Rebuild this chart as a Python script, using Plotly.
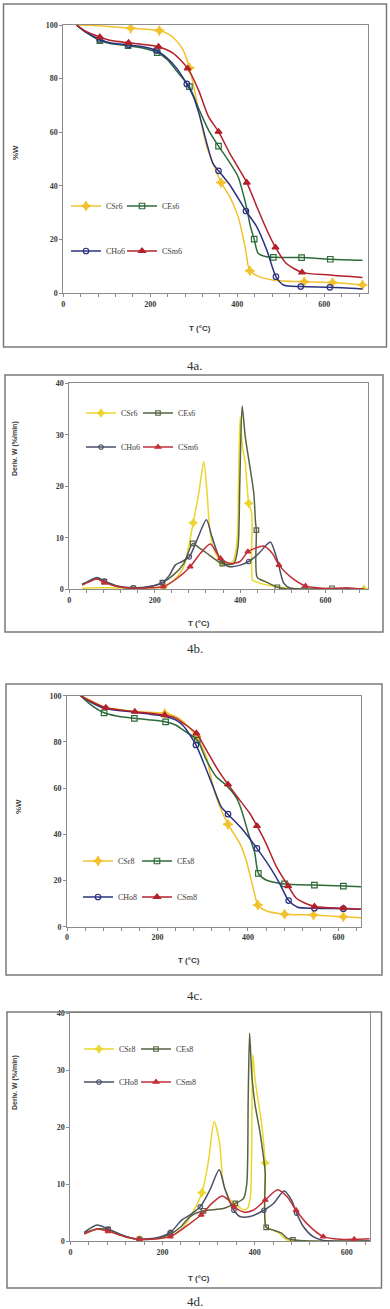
import plotly.graph_objects as go

W_PX, H_PX = 390, 1309

# ---------------- data ----------------
# 4a : TGA, %W vs T, series "6"
a_csr_T = [30, 90, 155, 221, 245, 262, 276, 290, 300, 311, 330, 349, 363, 383, 402, 418, 429, 452, 483, 554, 619, 688]
a_csr_W = [100, 99.6, 98.8, 97.9, 96.3, 93.8, 90.5, 84, 77, 68.3, 54.6, 46.5, 41.2, 35.9, 28.5, 17.3, 8.3, 6.0, 4.8, 4.2, 3.9, 3.0]
a_csr_M = [155, 221, 290, 363, 429, 554, 619, 688]

a_ces_T = [30, 50, 84, 110, 149, 180, 216, 240, 260, 275, 290, 311, 334, 357, 379, 402, 412, 421, 430, 439, 448, 465, 483, 548, 614, 688]
a_ces_W = [100, 97.5, 94.2, 93, 92.3, 91.5, 89.7, 87, 83, 80, 77, 68.9, 60.8, 54.8, 49.6, 43.4, 38, 32.2, 25, 20.1, 14.8, 13.6, 13.3, 13.2, 12.6, 12.2]
a_ces_M = [84, 149, 216, 290, 357, 439, 483, 548, 614]

a_cho_T = [30, 50, 84, 110, 150, 180, 214, 240, 260, 284, 299, 314, 330, 344, 357, 383, 420, 445, 468, 489, 506, 546, 613, 688]
a_cho_W = [100, 97.5, 94.6, 93.3, 92.6, 92, 90.5, 87.5, 84, 78, 73.3, 65.8, 55.8, 48.4, 45.6, 40.3, 30.6, 24.7, 16, 6.1, 3.0, 2.4, 2.1, 1.5]
a_cho_M = [84, 150, 214, 284, 357, 420, 489, 546, 613]

a_csm_T = [30, 50, 84, 110, 150, 180, 219, 253, 286, 311, 334, 357, 383, 422, 445, 468, 488, 513, 549, 613, 688]
a_csm_W = [100, 97.8, 95.5, 94.2, 93.4, 92.8, 91.9, 89.4, 83.8, 75.7, 65.8, 60.2, 52.1, 41.2, 32.2, 23.5, 17, 11, 7.7, 6.7, 5.8]
a_csm_M = [84, 150, 219, 286, 357, 422, 488, 549]

# 4b : DTG, Deriv. W vs T, series "6"
b_csr_T = [30, 60, 100, 150, 200, 220, 245, 268, 290, 303, 315, 322, 330, 342, 358, 373, 385, 393, 396, 400, 405, 412, 420, 427, 429, 436, 450, 479, 549, 620, 690]
b_csr_D = [0.2, 0.3, 0.3, 0.2, 0.3, 0.5, 1.8, 4.4, 12.9, 18.6, 24.8, 19.3, 10.9, 7, 5.2, 4.7, 5.7, 9.6, 20, 33.5, 28, 24.5, 16.7, 14.8, 1.8, 1.5, 1.1, 0.6, 0.05, 0, 0]
b_csr_M = [220, 290, 358, 420, 690]

b_ces_T = [30, 45, 65, 82, 110, 150, 190, 218, 244, 268, 289, 305, 322, 358, 385, 395, 399, 404.6, 412, 424, 432, 436, 438, 440, 459, 487, 510, 550, 615, 690]
b_ces_D = [1.0, 1.5, 2.1, 1.5, 0.6, 0.2, 0.5, 1.3, 2.8, 5.0, 8.9, 8.0, 7.0, 5.0, 5.0, 8.3, 20, 35.6, 29.6, 23.2, 18.6, 13, 11.5, 2.3, 1.5, 0.4, 0.05, 0, 0.2, 0]
b_ces_M = [82, 150, 218, 289, 358, 438, 487, 550, 615]

b_cho_T = [30, 45, 65, 82, 110, 150, 190, 218, 235, 248, 264, 281, 299, 321, 334, 354, 373, 400, 420, 444, 460, 471, 487, 502, 518, 550, 690]
b_cho_D = [1.0, 1.6, 2.3, 1.6, 0.7, 0.3, 0.6, 1.3, 2.8, 4.7, 5.4, 6.3, 9.6, 13.5, 10.2, 5.7, 4.4, 4.7, 5.4, 7.0, 8.5, 9.2, 5.7, 1.2, 0.2, 0, 0]
b_cho_M = [82, 150, 218, 281, 420]

b_csm_T = [30, 45, 65, 82, 110, 150, 190, 220, 252, 283, 307, 330, 354, 377, 400, 418, 436, 455, 475, 491, 518, 553, 600, 617, 650, 690]
b_csm_D = [0.8, 1.4, 2.0, 1.3, 0.6, 0.2, 0.3, 0.5, 2.1, 4.4, 7.0, 8.8, 6.0, 5.0, 5.4, 7.3, 8.0, 8.4, 7.0, 4.7, 2.4, 0.64, 0.15, 0.1, 0.3, 0]
b_csm_M = [82, 220, 283, 354, 418, 491, 553]

# 4c : TGA, %W vs T, series "8"
c_csr_T = [30, 50, 84, 150, 216, 240, 257, 286, 308, 323, 338, 356, 382, 396, 411, 422, 440, 481, 545, 611, 650]
c_csr_W = [100, 98.2, 95, 93.2, 92.3, 91, 88.8, 82.3, 73.6, 60.6, 51.9, 44.3, 36.1, 28.9, 17.3, 9.4, 6.9, 5.4, 5.1, 4.3, 3.9]
c_csr_M = [216, 286, 356, 422, 481, 545, 611]

c_ces_T = [30, 50, 82, 110, 149, 180, 218, 240, 257, 288, 308, 330, 352, 374, 385, 400, 415, 423, 440, 481, 547, 611, 650]
c_ces_W = [100, 96.5, 92.6, 91.2, 90.2, 89.6, 88.7, 87.3, 85.1, 80.8, 72.2, 64.9, 61.3, 56, 51, 41, 32, 23.1, 20.2, 18.5, 18.0, 17.6, 17.3]
c_ces_M = [82, 149, 218, 288, 423, 481, 547, 611]

c_cho_T = [30, 50, 84, 150, 220, 240, 257, 285, 304, 323, 341, 356, 389, 420, 448, 470, 490, 510, 547, 611, 650]
c_cho_W = [100, 97.5, 94.5, 92.8, 90.9, 89.5, 87, 78.7, 70, 60.6, 51.9, 48.7, 41.9, 33.9, 26, 18.8, 11.3, 8.4, 8.0, 7.8, 7.6]
c_cho_M = [285, 356, 420, 490, 547, 611]

c_csm_T = [30, 50, 86, 150, 216, 240, 257, 286, 308, 334, 356, 382, 404, 420, 440, 463, 489, 507, 547, 611, 650]
c_csm_W = [100, 97.8, 94.8, 93.1, 91.6, 90.3, 88.1, 83.7, 76.5, 67.8, 61.6, 54.8, 49.1, 43.6, 36.1, 26, 17.6, 12.3, 8.7, 8.0, 7.6]
c_csm_M = [86, 150, 216, 286, 356, 420, 489, 547, 611]

# 4d : DTG, Deriv. W vs T, series "8"
d_csr_T = [30, 58, 82, 120, 150, 190, 217, 240, 260, 285.5, 300, 312, 324, 332, 347, 361, 375, 385, 391, 396, 401, 416, 422.7, 425, 441, 451, 470, 500, 650]
d_csr_D = [1.3, 2.1, 1.7, 0.7, 0.3, 0.5, 0.8, 2.0, 4.2, 8.5, 14.2, 21, 17.2, 10.1, 7.2, 6.3, 5.5, 5.8, 8, 32.7, 28.3, 20.1, 13.7, 2.5, 1.9, 1.5, 0.2, 0, 0]
d_csr_M = [150, 285.5, 422.7]

d_ces_T = [30, 58, 82, 120, 150, 190, 217, 240, 260, 289, 332, 358, 376, 383, 386, 389, 394, 401, 412, 420, 423, 425, 441, 459, 470, 483, 520, 650]
d_ces_D = [1.4, 2.1, 2.0, 0.8, 0.3, 0.5, 1.2, 2.5, 4.3, 5.3, 5.7, 6.6, 7.5, 10.1, 25, 36.5, 28.9, 23.9, 18.9, 14.2, 12, 2.4, 1.9, 1.35, 0.5, 0.2, 0, 0]
d_ces_M = [82, 150, 217, 289, 358, 425, 483]

d_cho_T = [30, 58, 82, 120, 150, 190, 217, 242, 260, 282, 303, 323, 336, 355, 368, 390, 420, 441, 464, 480, 491, 506, 527, 549, 650]
d_cho_D = [1.5, 2.8, 2.1, 0.8, 0.3, 0.6, 1.5, 3.7, 4.6, 6.0, 9.0, 12.5, 9.0, 5.4, 4.3, 4.3, 5.4, 6.6, 8.8, 7.2, 4.9, 2.5, 0.75, 0.1, 0]
d_cho_M = [82, 217, 282, 355, 420, 491]

d_csm_T = [30, 58, 82, 120, 150, 190, 217, 260, 284, 307, 329, 343, 355, 376, 397, 423, 450, 470, 490, 513, 549, 585, 616, 650]
d_csm_D = [1.2, 2.1, 1.7, 0.7, 0.3, 0.4, 0.76, 3.1, 4.6, 6.6, 7.9, 7.2, 6.0, 5.1, 5.4, 7.2, 9.0, 7.8, 5.4, 3.1, 0.76, 0.3, 0.3, 0.4]
d_csm_M = [82, 150, 217, 284, 355, 423, 490, 549, 616]

names6 = ["CSr6", "CEs6", "CHo6", "CSm6"]
names8 = ["CSr8", "CEs8", "CHo8", "CSm8"]
x_ticks = [0, 200, 400, 600]
captions = ["4a.", "4b.", "4c.", "4d."]
x_title = "T (°C)"
y_title_tga = "%W"
y_title_dtg = "Deriv. W (%/min)"

# ---------------- styling ----------------
COL_AC = ["#F2C12E", "#2E6B3A", "#2B3380", "#B3202A"]
COL_BD = ["#EAD62C", "#556440", "#4A4F66", "#C2303A"]
SYMS = ["star-diamond", "square-open", "circle-open", "triangle-up"]
MS_AC = [7, 5.5, 5.5, 6]
MS_BD = [6, 4.5, 4.5, 5]
GRAY = "#8c8c8c"
TXT = "#3a3a3a"

# legend item positions (line start x, row y) in page pixels: CSr, CEs, CHo, CSm
panels = [
    dict(series=[(a_csr_T, a_csr_W, a_csr_M), (a_ces_T, a_ces_W, a_ces_M), (a_cho_T, a_cho_W, a_cho_M), (a_csm_T, a_csm_W, a_csm_M)],
         names=names6, cols=COL_AC, ms=MS_AC, plot=(63.3, 25, 367.7, 293), xr=[0, 700], yr=[0, 100], ydt=20,
         box=(3.5, 4, 386.5, 347), cap_y=365, ytitle=y_title_tga, yt_xy=(15, 153), xt_xy=(200, 328),
         leg=[(72, 206), (128, 206), (72, 251), (128, 251)]),
    dict(series=[(b_csr_T, b_csr_D, b_csr_M), (b_ces_T, b_ces_D, b_ces_M), (b_cho_T, b_cho_D, b_cho_M), (b_csm_T, b_csm_D, b_csm_M)],
         names=names6, cols=COL_BD, ms=MS_BD, plot=(69.3, 383.3, 368.3, 589.3), xr=[0, 700], yr=[0, 40], ydt=10,
         box=(5, 375, 383, 632), cap_y=648, ytitle=y_title_dtg, yt_xy=(15, 449), xt_xy=(199, 623),
         leg=[(87, 413), (144, 413), (87, 447), (144, 447)]),
    dict(series=[(c_csr_T, c_csr_W, c_csr_M), (c_ces_T, c_ces_W, c_ces_M), (c_cho_T, c_cho_W, c_cho_M), (c_csm_T, c_csm_W, c_csm_M)],
         names=names8, cols=COL_AC, ms=MS_AC, plot=(67, 695.7, 361, 926.7), xr=[0, 650], yr=[0, 100], ydt=20,
         box=(6, 684, 382, 975), cap_y=995, ytitle=y_title_tga, yt_xy=(18, 807), xt_xy=(189, 960),
         leg=[(84, 861), (143, 861), (84, 897), (143, 897)]),
    dict(series=[(d_csr_T, d_csr_D, d_csr_M), (d_ces_T, d_ces_D, d_ces_M), (d_cho_T, d_cho_D, d_cho_M), (d_csm_T, d_csm_D, d_csm_M)],
         names=names8, cols=COL_BD, ms=MS_BD, plot=(70.4, 1013.3, 369.8, 1241), xr=[0, 650], yr=[0, 40], ydt=10,
         box=(7, 1012, 381.5, 1288), cap_y=1301, ytitle=y_title_dtg, yt_xy=(15, 1083), xt_xy=(199, 1278),
         leg=[(85, 1049), (142, 1049), (85, 1082), (142, 1082)]),
]


def fx(px):
    return px / W_PX


def fy(py):
    return 1 - py / H_PX


fig = go.Figure()
layout = dict(width=W_PX, height=H_PX, margin=dict(l=0, r=0, t=0, b=0, pad=0, autoexpand=False),
              paper_bgcolor="white", plot_bgcolor="white", showlegend=True)
shapes, annotations = [], []
tickfont = dict(family="Liberation Serif", size=8, color=TXT, weight="bold")
legfont = dict(family="Liberation Serif", size=8, color=TXT)

leg_idx = 0
for i, p in enumerate(panels):
    n = i + 1
    xname = "x" if n == 1 else f"x{n}"
    yname = "y" if n == 1 else f"y{n}"
    xa = "xaxis" if n == 1 else f"xaxis{n}"
    ya = "yaxis" if n == 1 else f"yaxis{n}"
    x0, y0, x1, y1 = p["plot"]
    layout[xa] = dict(domain=[fx(x0), fx(x1)], range=p["xr"], anchor=yname, automargin=False,
                      tickmode="array", tickvals=x_ticks, ticks="outside", ticklen=3, tickcolor=GRAY,
                      minor=dict(dtick=40, tick0=0, ticks="outside", ticklen=3, tickcolor=GRAY),
                      showline=True, linecolor=GRAY, linewidth=1, mirror=True,
                      showgrid=False, zeroline=False, tickfont=tickfont)
    layout[ya] = dict(domain=[fy(y1), fy(y0)], range=p["yr"], anchor=xname, automargin=False,
                      dtick=p["ydt"], tick0=0, ticks="outside", ticklen=3, tickcolor=GRAY,
                      showline=True, linecolor=GRAY, linewidth=1, mirror=True,
                      showgrid=False, zeroline=False, tickfont=tickfont)

    legs = []
    for k in range(4):
        leg_idx += 1
        lname = "legend" if leg_idx == 1 else f"legend{leg_idx}"
        legs.append(lname)
        lx, ly = p["leg"][k]
        layout[lname] = dict(x=fx(lx - 6), y=fy(ly), xanchor="left", yanchor="middle",
                             orientation="h", font=legfont,
                             bgcolor="rgba(0,0,0,0)", borderwidth=0, itemclick=False,
                             itemdoubleclick=False, tracegroupgap=0)

    ms = p["ms"]
    for k, (T, V, M) in enumerate(p["series"]):
        col = p["cols"][k]
        fig.add_trace(go.Scatter(x=T, y=V, mode="lines", xaxis=xname, yaxis=yname,
                                 line=dict(color=col, width=1.5, shape="spline", smoothing=0.7),
                                 showlegend=False, hoverinfo="skip"))
        mx = [t for t in T if t in M]
        my = [v for t, v in zip(T, V) if t in M]
        fig.add_trace(go.Scatter(x=mx, y=my, mode="markers", xaxis=xname, yaxis=yname,
                                 marker=dict(symbol=SYMS[k], size=ms[k], color=col,
                                             line=dict(color=col, width=1.2)),
                                 showlegend=False, hoverinfo="skip"))
    for k in range(4):
        col = p["cols"][k]
        fig.add_trace(go.Scatter(x=[None], y=[None], mode="lines+markers", xaxis=xname, yaxis=yname,
                                 name=p["names"][k], legend=legs[k],
                                 line=dict(color=col, width=1.5),
                                 marker=dict(symbol=SYMS[k], size=ms[k], color=col,
                                             line=dict(color=col, width=1.2))))

    bx0, by0, bx1, by1 = p["box"]
    shapes.append(dict(type="rect", xref="paper", yref="paper", x0=fx(bx0), x1=fx(bx1),
                       y0=fy(by1), y1=fy(by0), line=dict(color="#7a7a7a", width=1.5)))
    annotations.append(dict(text=captions[i], x=0.5, y=fy(p["cap_y"]), xref="paper", yref="paper",
                            showarrow=False, xanchor="center", yanchor="middle",
                            font=dict(family="Liberation Serif", size=13, color="#333333")))
    annotations.append(dict(text=x_title, x=fx(p["xt_xy"][0]), y=fy(p["xt_xy"][1]), xref="paper", yref="paper",
                            showarrow=False, xanchor="center", yanchor="middle",
                            font=dict(family="Liberation Sans", size=8, color=TXT, weight="bold")))
    annotations.append(dict(text=p["ytitle"], x=fx(p["yt_xy"][0]), y=fy(p["yt_xy"][1]), xref="paper", yref="paper",
                            showarrow=False, xanchor="center", yanchor="middle", textangle=-90,
                            font=dict(family="Liberation Sans", size=7 if p["ytitle"] != "%W" else 8,
                                      color=TXT, weight="bold")))

layout["shapes"] = shapes
layout["annotations"] = annotations
fig.update_layout(**layout)
# remove the browser's default 8px page margin so the figure sits at the window origin
fig.write_html("out.html", config={"displayModeBar": False},
               post_script="document.body.style.margin='0';document.body.style.overflow='hidden';")
